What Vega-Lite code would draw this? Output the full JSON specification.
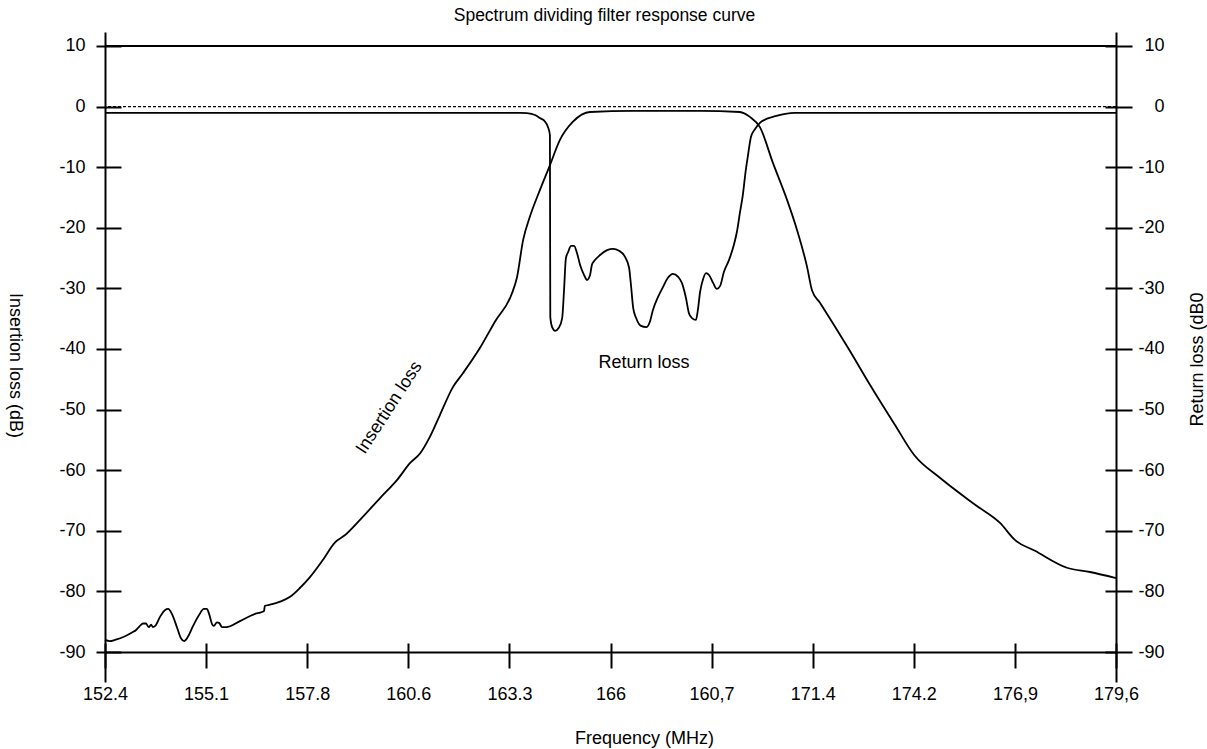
{
  "$schema": "https://vega.github.io/schema/vega-lite/v6.json",
  "width": 1011,
  "height": 650,
  "autosize": "none",
  "padding": {"left": 105, "top": 32, "right": 91, "bottom": 67},
  "background": "white",
  "title": {"text": "Spectrum dividing filter response curve", "fontSize": 17.5, "fontWeight": "normal", "font": "Liberation Sans", "color": "black", "anchor": "middle", "offset": 8, "dx": -6},
  "config": {
    "view": {"stroke": null},
    "font": "Liberation Sans",
    "axis": {"domainColor": "black", "domainWidth": 2, "tickColor": "black", "tickWidth": 2, "labelColor": "black", "labelFontSize": 18, "labelFont": "Liberation Sans", "titleFont": "Liberation Sans", "titleFontSize": 18, "titleFontWeight": "normal", "titleColor": "black", "grid": false}
  },
  "datasets": {
    "ins": [
      {"f": 152.40, "db": -88.0}, {"f": 152.53, "db": -88.2}, {"f": 152.67, "db": -88.0}, {"f": 152.94, "db": -87.4},
      {"f": 153.15, "db": -86.7}, {"f": 153.23, "db": -86.4}, {"f": 153.31, "db": -85.9}, {"f": 153.42, "db": -85.3},
      {"f": 153.50, "db": -85.3}, {"f": 153.58, "db": -85.9}, {"f": 153.64, "db": -85.5}, {"f": 153.69, "db": -85.9},
      {"f": 153.75, "db": -85.7}, {"f": 153.88, "db": -84.2}, {"f": 154.01, "db": -83.1}, {"f": 154.10, "db": -82.9},
      {"f": 154.20, "db": -83.7}, {"f": 154.34, "db": -86.0}, {"f": 154.44, "db": -87.7}, {"f": 154.53, "db": -88.2},
      {"f": 154.63, "db": -87.5}, {"f": 154.77, "db": -85.7}, {"f": 154.93, "db": -83.9}, {"f": 155.06, "db": -82.9},
      {"f": 155.14, "db": -82.9}, {"f": 155.20, "db": -83.7}, {"f": 155.28, "db": -85.4}, {"f": 155.33, "db": -85.7},
      {"f": 155.41, "db": -85.1}, {"f": 155.47, "db": -85.2}, {"f": 155.55, "db": -85.9}, {"f": 155.66, "db": -85.9},
      {"f": 156.03, "db": -84.9}, {"f": 156.44, "db": -83.7}, {"f": 156.62, "db": -83.4}, {"f": 156.68, "db": -83.2},
      {"f": 156.70, "db": -82.4}, {"f": 156.84, "db": -82.2}, {"f": 157.11, "db": -81.7}, {"f": 157.38, "db": -80.9},
      {"f": 157.65, "db": -79.4}, {"f": 157.92, "db": -77.6}, {"f": 158.24, "db": -75.0}, {"f": 158.59, "db": -71.9},
      {"f": 158.86, "db": -70.7}, {"f": 159.26, "db": -68.2}, {"f": 159.80, "db": -64.6}, {"f": 160.26, "db": -61.6},
      {"f": 160.61, "db": -58.8}, {"f": 160.88, "db": -57.2}, {"f": 161.14, "db": -54.5}, {"f": 161.41, "db": -50.9},
      {"f": 161.76, "db": -46.3}, {"f": 162.03, "db": -44.0}, {"f": 162.49, "db": -39.8}, {"f": 162.89, "db": -35.5},
      {"f": 163.35, "db": -30.8}, {"f": 163.48, "db": -28.3}, {"f": 163.65, "db": -22.0}, {"f": 163.83, "db": -18.2},
      {"f": 164.10, "db": -13.8}, {"f": 164.35, "db": -10.0}, {"f": 164.64, "db": -5.5}, {"f": 164.99, "db": -2.5},
      {"f": 165.45, "db": -0.9}, {"f": 166.61, "db": -0.7}, {"f": 168.41, "db": -0.7}, {"f": 169.48, "db": -0.9},
      {"f": 169.75, "db": -1.7}, {"f": 170.02, "db": -3.4}, {"f": 170.37, "db": -9.3}, {"f": 170.75, "db": -15.4},
      {"f": 171.02, "db": -20.4}, {"f": 171.29, "db": -26.5}, {"f": 171.42, "db": -30.3}, {"f": 171.64, "db": -32.4},
      {"f": 172.39, "db": -39.8}, {"f": 172.98, "db": -45.9}, {"f": 173.65, "db": -52.5}, {"f": 174.17, "db": -57.5},
      {"f": 174.87, "db": -61.3}, {"f": 175.81, "db": -65.7}, {"f": 176.48, "db": -68.7}, {"f": 176.88, "db": -71.5},
      {"f": 177.42, "db": -73.3}, {"f": 178.28, "db": -76.1}, {"f": 178.90, "db": -76.8}, {"f": 179.60, "db": -77.8}
    ],
    "ret": [
      {"f": 152.40, "db": -1.05}, {"f": 163.57, "db": -1.05}, {"f": 163.75, "db": -1.1}, {"f": 163.97, "db": -1.4},
      {"f": 164.10, "db": -1.9}, {"f": 164.24, "db": -2.5}, {"f": 164.32, "db": -3.4}, {"f": 164.37, "db": -4.7},
      {"f": 164.38, "db": -34.7}, {"f": 164.43, "db": -36.4}, {"f": 164.51, "db": -37.0}, {"f": 164.61, "db": -36.5},
      {"f": 164.70, "db": -34.9}, {"f": 164.75, "db": -30.3}, {"f": 164.80, "db": -25.0}, {"f": 164.86, "db": -24.0},
      {"f": 164.94, "db": -23.0}, {"f": 165.02, "db": -23.0}, {"f": 165.10, "db": -24.2}, {"f": 165.18, "db": -26.1},
      {"f": 165.29, "db": -27.8}, {"f": 165.37, "db": -28.6}, {"f": 165.45, "db": -27.8}, {"f": 165.50, "db": -26.1},
      {"f": 165.56, "db": -25.5}, {"f": 165.72, "db": -24.5}, {"f": 165.91, "db": -23.7}, {"f": 166.07, "db": -23.5},
      {"f": 166.23, "db": -23.8}, {"f": 166.39, "db": -24.8}, {"f": 166.50, "db": -26.6}, {"f": 166.55, "db": -29.4},
      {"f": 166.61, "db": -33.2}, {"f": 166.69, "db": -34.9}, {"f": 166.82, "db": -36.2}, {"f": 166.96, "db": -36.4},
      {"f": 167.06, "db": -35.5}, {"f": 167.14, "db": -33.6}, {"f": 167.28, "db": -31.4}, {"f": 167.41, "db": -29.8},
      {"f": 167.54, "db": -28.3}, {"f": 167.68, "db": -27.6}, {"f": 167.82, "db": -28.1}, {"f": 167.92, "db": -29.1},
      {"f": 168.03, "db": -31.6}, {"f": 168.11, "db": -34.1}, {"f": 168.19, "db": -34.9}, {"f": 168.30, "db": -35.2},
      {"f": 168.35, "db": -33.6}, {"f": 168.41, "db": -30.6}, {"f": 168.49, "db": -28.5}, {"f": 168.57, "db": -27.5},
      {"f": 168.65, "db": -27.8}, {"f": 168.76, "db": -29.1}, {"f": 168.86, "db": -30.1}, {"f": 168.95, "db": -29.6},
      {"f": 169.05, "db": -27.3}, {"f": 169.19, "db": -25.3}, {"f": 169.32, "db": -22.8}, {"f": 169.40, "db": -20.7},
      {"f": 169.48, "db": -17.6}, {"f": 169.56, "db": -14.6}, {"f": 169.64, "db": -10.5}, {"f": 169.70, "db": -8.0},
      {"f": 169.78, "db": -5.0}, {"f": 169.89, "db": -3.7}, {"f": 170.02, "db": -2.7}, {"f": 170.21, "db": -2.0},
      {"f": 170.43, "db": -1.6}, {"f": 170.70, "db": -1.2}, {"f": 170.96, "db": -1.05}, {"f": 179.60, "db": -1.05}
    ],
    "notes": [
      {"f": 160.05, "db": -49.7, "label": "Insertion loss", "angle": -57},
      {"f": 166.90, "db": -42.3, "label": "Return loss", "angle": 0}
    ]
  },
  "layer": [
    {
      "data": {"name": "ins"},
      "mark": {"type": "line", "color": "black", "strokeWidth": 1.8, "interpolate": "monotone"},
      "encoding": {
        "x": {"field": "f", "type": "quantitative", "scale": {"domain": [152.4, 179.6], "nice": false, "zero": false},
          "axis": {"orient": "bottom", "offset": -30, "values": [152.4, 155.12, 157.84, 160.56, 163.28, 166, 168.72, 171.44, 174.16, 176.88, 179.6],
            "labelExpr": "datum.value == 166 ? '166' : datum.value == 168.72 ? '160,7' : datum.value == 176.88 ? '176,9' : datum.value == 179.6 ? '179,6' : format(datum.value, '.1f')",
            "tickSize": 16, "labelPadding": 17, "labelFlush": false, "labelOverlap": false,
            "title": "Frequency (MHz)", "titleX": 539, "titleY": 86, "titleBaseline": "middle", "titleAnchor": null, "titleAlign": "center"}},
        "y": {"field": "db", "type": "quantitative", "scale": {"domain": [-94.95, 12.3], "nice": false, "zero": false},
          "axis": {"orient": "left", "values": [-90, -80, -70, -60, -50, -40, -30, -20, -10, 0, 10], "labelExpr": "'' + datum.value", "tickSize": 9, "labelPadding": 11, "labelOverlap": false,
            "title": "Insertion loss (dB)", "titleAngle": 90, "titleX": -91, "titleY": 333, "titleBaseline": "middle", "titleAlign": "center"}}
      }
    },
    {
      "data": {"name": "ret"},
      "mark": {"type": "line", "color": "black", "strokeWidth": 1.8, "interpolate": "monotone"},
      "encoding": {
        "x": {"field": "f", "type": "quantitative", "axis": null},
        "y": {"field": "db", "type": "quantitative",
          "axis": {"orient": "right", "values": [-90, -80, -70, -60, -50, -40, -30, -20, -10, 0, 10], "labelExpr": "'' + datum.value", "tickSize": 16, "labelPadding": 32, "labelAlign": "right", "labelOverlap": false,
            "title": "Return loss (dB0", "titleAngle": 270, "titleX": 81, "titleY": 327, "titleBaseline": "middle", "titleAlign": "center"}}
      }
    },
    {
      "data": {"values": [{}]},
      "mark": {"type": "rule", "color": "black", "strokeWidth": 1.2, "strokeDash": [3, 2]},
      "encoding": {
        "y": {"datum": 0, "type": "quantitative",
          "axis": {"orient": "left", "values": [-90, -80, -70, -60, -50, -40, -30, -20, -10, 0, 10], "tickSize": -16, "labels": false, "domain": false, "title": null}}
      }
    },
    {
      "data": {"values": [{}]},
      "mark": {"type": "rule", "color": "black", "strokeWidth": 2},
      "encoding": {
        "y": {"datum": 10, "type": "quantitative",
          "axis": {"orient": "right", "values": [-90, -80, -70, -60, -50, -40, -30, -20, -10, 0, 10], "tickSize": -11, "labels": false, "domain": false, "title": null}}
      }
    },
    {
      "data": {"name": "notes"},
      "mark": {"type": "text", "font": "Liberation Sans", "fontSize": 18, "color": "black", "align": "center", "baseline": "middle"},
      "encoding": {
        "x": {"field": "f", "type": "quantitative",
          "axis": {"orient": "bottom", "offset": -30, "values": [152.4, 155.12, 157.84, 160.56, 163.28, 166, 168.72, 171.44, 174.16, 176.88, 179.6], "tickSize": -9, "labels": false, "domain": false, "title": null}},
        "y": {"field": "db", "type": "quantitative", "axis": null},
        "text": {"field": "label"},
        "angle": {"field": "angle", "type": "quantitative", "scale": null}
      }
    }
  ],
  "resolve": {"axis": {"x": "independent", "y": "independent"}}
}
